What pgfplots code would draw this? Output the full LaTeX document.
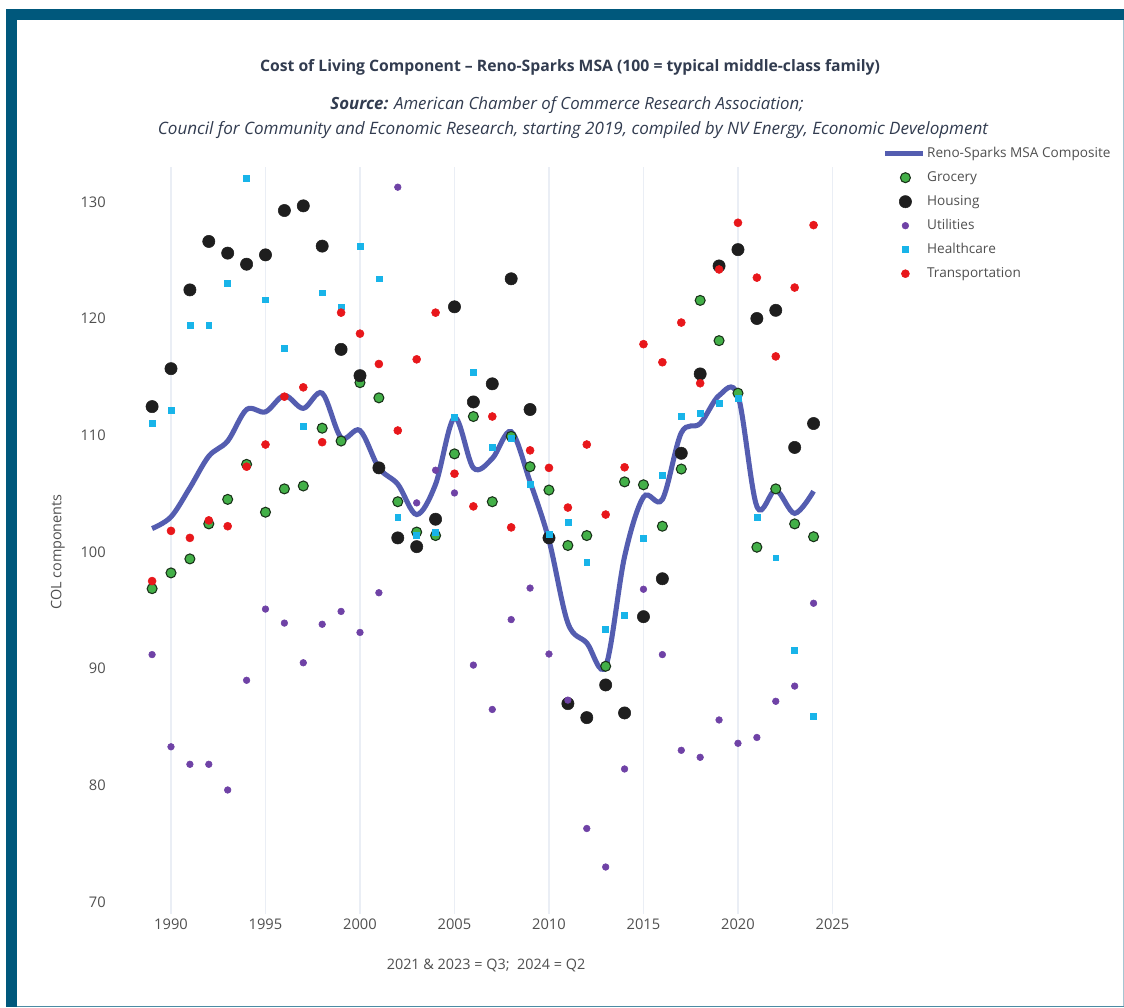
\documentclass[border=0pt]{standalone}
\usepackage{fontspec}
\setmainfont{Open Sans}
\usepackage{pgfplots}
\usepackage{pgfplotstable}
\pgfplotsset{compat=1.18}

\definecolor{framecol}{RGB}{0,88,124}
\definecolor{compcol}{RGB}{84,93,176}
\definecolor{grocol}{RGB}{67,176,72}
\definecolor{grodark}{RGB}{25,50,25}
\definecolor{houscol}{RGB}{30,30,30}
\definecolor{utilcol}{RGB}{111,66,166}
\definecolor{hlthcol}{RGB}{24,180,233}
\definecolor{transcol}{RGB}{232,23,27}
\definecolor{gridcol}{RGB}{234,238,245}
\definecolor{titlecol}{RGB}{50,60,80}
\definecolor{tickcol}{RGB}{80,80,80}

% year, composite, grocery, housing, utilities, healthcare, transportation
\pgfplotstableread{
year comp  groc   hous   util   hlth   trans
1989 102.0 96.85  112.45 91.2   111.0  97.5
1990 103.0 98.2   115.7  83.3   112.1  101.8
1991 105.5 99.4   122.45 81.8   119.4  101.2
1992 108.2 102.4  126.6  81.8   119.4  102.7
1993 109.5 104.5  125.6  79.6   123.05 102.2
1994 112.2 107.5  124.65 89.0   132.0  107.3
1995 112.0 103.4  125.45 95.1   121.6  109.2
1996 113.4 105.4  129.25 93.9   117.45 113.3
1997 112.3 105.65 129.65 90.5   110.8  114.1
1998 113.6 110.6  126.2  93.8   122.2  109.4
1999 109.8 109.5  117.35 94.9   121.0  120.5
2000 110.4 114.5  115.1  93.1   126.2  118.7
2001 107.2 113.2  107.2  96.5   123.4  116.1
2002 105.8 104.3  101.2  131.25 103.0  110.4
2003 103.2 101.7  100.45 104.2  101.45 116.5
2004 105.8 101.4  102.8  107.0  101.65 120.5
2005 111.5 108.4  121.0  105.05 111.5  106.7
2006 107.2 111.6  112.85 90.3   115.4  103.9
2007 108.0 104.3  114.4  86.5   109.0  111.6
2008 110.3 109.9  123.4  94.2   109.7  102.1
2009 106.0 107.3  112.2  96.9   105.8  108.7
2010 101.0 105.3  101.2  91.25  101.5  107.2
2011 93.9  100.55 87.0   87.3   102.55 103.8
2012 92.2  101.4  85.8   76.3   99.1   109.2
2013 90.2  90.2   88.6   73.0   93.4   103.2
2014 99.6  106.0  86.2   81.4   94.6   107.25
2015 104.7 105.75 94.45  96.8   101.2  117.8
2016 104.5 102.2  97.7   91.2   106.6  116.25
2017 110.2 107.1  108.45 83.0   111.6  119.65
2018 111.0 121.55 115.25 82.4   111.9  114.45
2019 113.4 118.1  124.5  85.6   112.75 124.2
2020 113.4 113.6  125.9  83.6   113.2  128.2
2021 103.9 100.4  120.0  84.1   103.0  123.5
2022 105.3 105.4  120.7  87.2   99.5   116.75
2023 103.3 102.4  108.95 88.5   91.6   122.65
2024 105.2 101.3  111.0  95.6   85.9   128.0
}\coldata

\begin{document}
\begin{tikzpicture}
\useasboundingbox (0,0) rectangle (843pt,755.25pt);
\fill[white] (0,0) rectangle (843pt,755.25pt);
% frame
\fill[framecol] (4.5pt,0pt) rectangle (12.75pt,748.5pt);
\fill[framecol] (4.5pt,740.25pt) rectangle (843pt,748.5pt);
\draw[framecol!35, line width=0.8pt] (842.4pt,0pt) -- (842.4pt,740.25pt);
\draw[framecol!70, line width=0.8pt] (12.75pt,0.4pt) -- (843pt,0.4pt);

\begin{axis}[
    at={(92.81pt,69.98pt)}, anchor=south west,
    scale only axis, width=552.8pt, height=560.2pt,
    xmin=1987.5, xmax=2026.5, ymin=69, ymax=133,
    axis line style={draw=none},
    major tick length=0pt,
    xtick={1990,1995,...,2025}, ytick={70,80,...,130},
    xmajorgrids, grid style={gridcol, line width=1.3pt},
    /pgf/number format/assume math mode=true,
    /pgf/number format/1000 sep={},
    tick label style={font=\fontsize{11}{13}\selectfont, text=tickcol},
    yticklabel style={xshift=-10pt},
    clip=false,
    legend cell align=left,
    legend style={at={(1.0301,1.0291)}, anchor=north west, draw=none, fill=none,
        inner sep=0pt, outer sep=0pt, row sep=5pt,
        font=\fontsize{10.2}{11}\selectfont, text=tickcol,
        nodes={inner sep=1.5pt, text height=7.5pt, text depth=2.5pt}},
]
\addplot[gray!80, line width=1.1pt, forget plot] coordinates {(1989,100) (2024,100)};

\addplot[compcol, line width=3.8pt, smooth, tension=0.55,
    legend image code/.code={\draw[compcol, line width=3.6pt] (0pt,0pt) -- (28pt,0pt);}]
    table[x=year, y=comp] {\coldata};
\addlegendentry{Reno-Sparks MSA Composite}

\pgfplotsset{every axis plot/.append style={only marks,
    legend image code/.code={\path (0pt,0pt) (28pt,0pt); \draw[##1] plot coordinates {(15pt,0pt)};}}}

\addplot[mark=*, mark size=3.75pt, mark options={fill=grocol, draw=grodark, line width=0.8pt}]
    table[x=year, y=groc] {\coldata};
\addlegendentry{Grocery}
\addplot[mark=*, mark size=4.6pt, mark options={fill=houscol, draw=houscol}]
    table[x=year, y=hous] {\coldata};
\addlegendentry{Housing}
\addplot[mark=*, mark size=2.5pt, mark options={fill=utilcol, draw=utilcol}]
    table[x=year, y=util] {\coldata};
\addlegendentry{Utilities}
\addplot[mark=square*, mark size=2.2pt, mark options={fill=hlthcol, draw=hlthcol}]
    table[x=year, y=hlth] {\coldata};
\addlegendentry{Healthcare}
\addplot[mark=*, mark size=3pt, mark options={fill=transcol, draw=transcol}]
    table[x=year, y=trans] {\coldata};
\addlegendentry{Transportation}
\end{axis}

\node[text=titlecol, font=\bfseries\fontsize{11.8}{13}\selectfont] at (427.5pt,705pt)
    {Cost of Living Component – Reno-Sparks MSA (100 = typical middle-class family)};
\node[text=titlecol, font=\itshape\fontsize{12.6}{14}\selectfont] at (425.25pt,676.5pt)
    {\textbf{Source:} American Chamber of Commerce Research Association;};
\node[text=titlecol, font=\itshape\fontsize{12.8}{14}\selectfont] at (429.75pt,657.75pt)
    {Council for Community and Economic Research, starting 2019, compiled by NV Energy, Economic Development};
\node[text=tickcol, rotate=90, font=\fontsize{10.8}{12}\selectfont] at (43.5pt,341.25pt)
    {COL components};
\node[text=tickcol, font=\fontsize{10.8}{12}\selectfont] at (364.5pt,30.75pt)
    {2021 \& 2023 = Q3;\ \ 2024 = Q2};
\end{tikzpicture}
\end{document}
